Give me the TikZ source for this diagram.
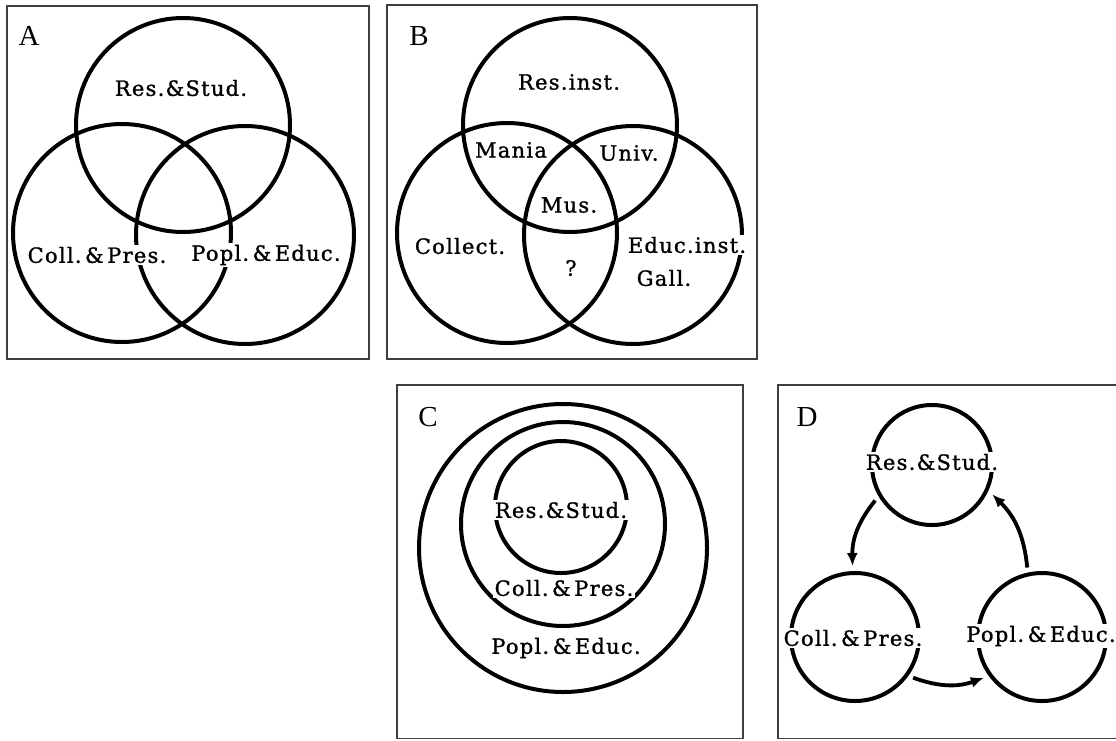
\documentclass[tikz,border=0pt]{standalone}
\usepackage{fontspec}
\setmainfont{DejaVu Serif}[LetterSpace=6, FakeBold=1.2]
\newfontfamily\panelfont{Liberation Serif}
\usetikzlibrary{arrows.meta}

\begin{document}
\begin{tikzpicture}
[x=1pt, y=-1pt,
panel/.style={draw=black!75, line width=1.3pt},
ring/.style={circle, draw=black, line width=4pt, inner sep=0pt, outer sep=7pt},
tag/.style={font=\panelfont\fontsize{29}{29}\selectfont, inner sep=0pt},
lbl/.style={font=\fontsize{21}{21}\selectfont, fill=white, inner sep=1.5pt},
flow/.style={line width=3.8pt, -{Latex[length=13pt,width=11pt]}},
]
\useasboundingbox (0,0) rectangle (1116,740);

% A
\draw [panel] (7,6) rectangle (369,359);
\node [tag] (aTag) at (29,36) {A};
\node [ring, minimum size=214pt] (aRes) at (183,125) {};
\node [ring, minimum size=218pt] (aColl) at (122,233) {};
\node [ring, minimum size=218pt] (aPopl) at (245,235) {};
\node [lbl, fill=none] (aResL) at (181,88) {Res.\&Stud.};
\node [lbl] (aCollL) at (97,255) {Coll.\,\&\,Pres.};
\node [lbl] (aPoplL) at (266,255) {Popl.\,\&\,Educ.};

% B
\draw [panel] (387,5) rectangle (757,359);
\node [tag] (bTag) at (419,36) {B};
\node [ring, minimum size=214pt] (bRes) at (570,125) {};
\node [ring, minimum size=220pt] (bColl) at (507,233) {};
\node [ring, minimum size=218pt] (bEduc) at (633,235) {};
\node [lbl, fill=none] (bResL) at (569,82) {Res.inst.};
\node [lbl, fill=none] (bMania) at (511,150) {Mania};
\node [lbl, fill=none] (bUniv) at (629,153) {Univ.};
\node [lbl, fill=none] (bMus) at (569,205) {Mus.};
\node [lbl, fill=none] (bCollL) at (460,246) {Collect.};
\node [lbl, fill=none] (bQuery) at (571,268) {?};
\node [lbl] (bEducL) at (687,245) {Educ.inst.};
\node [lbl, fill=none] (bGall) at (664,278) {Gall.};

% C
\draw [panel] (397,385) rectangle (743,738.5);
\node [tag] (cTag) at (428,417) {C};
\node [ring, minimum size=288pt] (cPopl) at (563,548) {};
\node [ring, minimum size=204pt] (cColl) at (563,524) {};
\node [ring, minimum size=132pt] (cRes) at (561,507) {};
\node [lbl] (cResL) at (561,510) {Res.\&Stud.};
\node [lbl] (cCollL) at (564,588) {Coll.\,\&\,Pres.};
\node [lbl, fill=none] (cPoplL) at (566,648) {Popl.\,\&\,Educ.};

% D
\draw [panel] (1120,385) -- (778,385) -- (778,738.5) -- (1120,738.5);
\node [tag] (dTag) at (807,417) {D};
\node [ring, minimum size=120pt] (dRes) at (932,465) {};
\node [ring, minimum size=128pt] (dColl) at (855,637) {};
\node [ring, minimum size=128pt] (dPopl) at (1042,637) {};
\node [lbl] (dResL) at (932,462) {Res.\&Stud.};
\node [lbl] (dCollL) at (853,638) {Coll.\,\&\,Pres.};
\node [lbl] (dPoplL) at (1041,636) {Popl.\,\&\,Educ.};

\draw [flow] (dRes.212) to[bend right=20] (dColl.92);
\draw [flow] (dColl.325) to[bend right=20] (dPopl.215);
\draw [flow] (dPopl.102) to[bend right=20] (dRes.334);

\end{tikzpicture}
\end{document}
